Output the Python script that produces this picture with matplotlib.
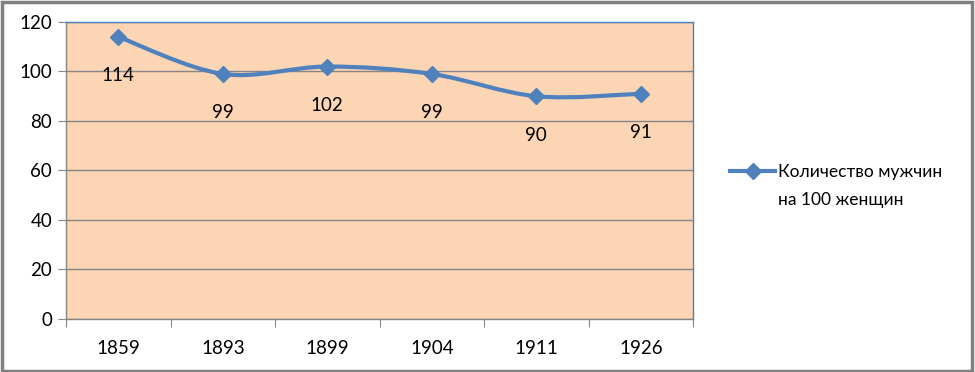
import matplotlib.pyplot as plt
from matplotlib.path import Path
from matplotlib.patches import PathPatch, Rectangle
from matplotlib.lines import Line2D

plt.rcParams['font.family'] = ['Lato', 'DejaVu Sans']

years = ["1859", "1893", "1899", "1904", "1911", "1926"]
men_per_100 = [114, 99, 102, 99, 90, 91]
series_name = ["Количество мужчин", "на 100 женщин"]
yticks = [0, 20, 40, 60, 80, 100, 120]

blue = "#4F81BD"
grid = "#868686"

fig = plt.figure(figsize=(9.75, 3.72), dpi=100)
ax = fig.add_axes([0.0677, 0.1425, 0.6431, 0.7984])
ax.set_facecolor("#FCD5B5")

xs = list(range(len(years)))
ax.set_xlim(-0.5, len(years) - 0.5)
ax.set_ylim(0, 120)

# сглаженная линия (безье как в Excel)
pts = list(zip(xs, men_per_100))
verts = [pts[0]]
codes = [Path.MOVETO]
for i in range(len(pts) - 1):
    p0 = pts[i - 1] if i > 0 else pts[i]
    p1 = pts[i]
    p2 = pts[i + 1]
    p3 = pts[i + 2] if i + 2 < len(pts) else pts[i + 1]
    c1 = (p1[0] + (p2[0] - p0[0]) / 6, p1[1] + (p2[1] - p0[1]) / 6)
    c2 = (p2[0] - (p3[0] - p1[0]) / 6, p2[1] - (p3[1] - p1[1]) / 6)
    verts += [c1, c2, p2]
    codes += [Path.CURVE4] * 3
ax.add_patch(PathPatch(Path(verts, codes), facecolor="none", edgecolor=blue,
                       lw=3, zorder=3, capstyle="round"))
ax.plot(xs, men_per_100, linestyle="none", marker="D", ms=8, color=blue, zorder=4)

for x, v in zip(xs, men_per_100):
    ax.annotate(str(v), (x, v), xytext=(0, -28), textcoords="offset points",
                ha="center", va="center", fontsize=13.5, color="black")

ax.set_yticks(yticks)
ax.yaxis.grid(True, color=grid, lw=1)
ax.set_axisbelow(True)
ax.set_xticks([i - 0.5 for i in range(len(years) + 1)])
ax.set_xticklabels([])
ax.set_xticks(xs, minor=True)
ax.set_xticklabels(years, minor=True)
ax.tick_params(axis="x", which="minor", length=0, pad=15, labelsize=13.5)
ax.tick_params(axis="x", which="major", length=6, color=grid, direction="out")
ax.tick_params(axis="y", length=6, color=grid, labelsize=13.5, pad=4)

ax.spines["left"].set_color(grid)
ax.spines["bottom"].set_color(grid)
ax.spines["top"].set_color(blue)
ax.spines["right"].set_color(blue)
for s in ax.spines.values():
    s.set_linewidth(1)

# легенда: маркер напротив первой строки, как в Excel
handle = Line2D([], [], color=blue, lw=3, marker="D", ms=8)
leg = fig.legend([handle], [series_name[0]], loc="center left", bbox_to_anchor=(0.733, 0.5376),
                 frameon=False, fontsize=12.5, handlelength=2.6, handletextpad=0.15)
fig.canvas.draw()
bb = leg.get_texts()[0].get_window_extent().transformed(fig.transFigure.inverted())
fig.text(bb.x0, bb.y0 + bb.height / 2 - 28 / 372, series_name[1], fontsize=12.5,
         ha="left", va="center")

fig.patches.append(Rectangle((0.002, 0.004), 0.995, 0.99, transform=fig.transFigure,
                             fill=False, edgecolor="#7F7F7F", lw=2.5))

fig.savefig("out.png", dpi=100)
